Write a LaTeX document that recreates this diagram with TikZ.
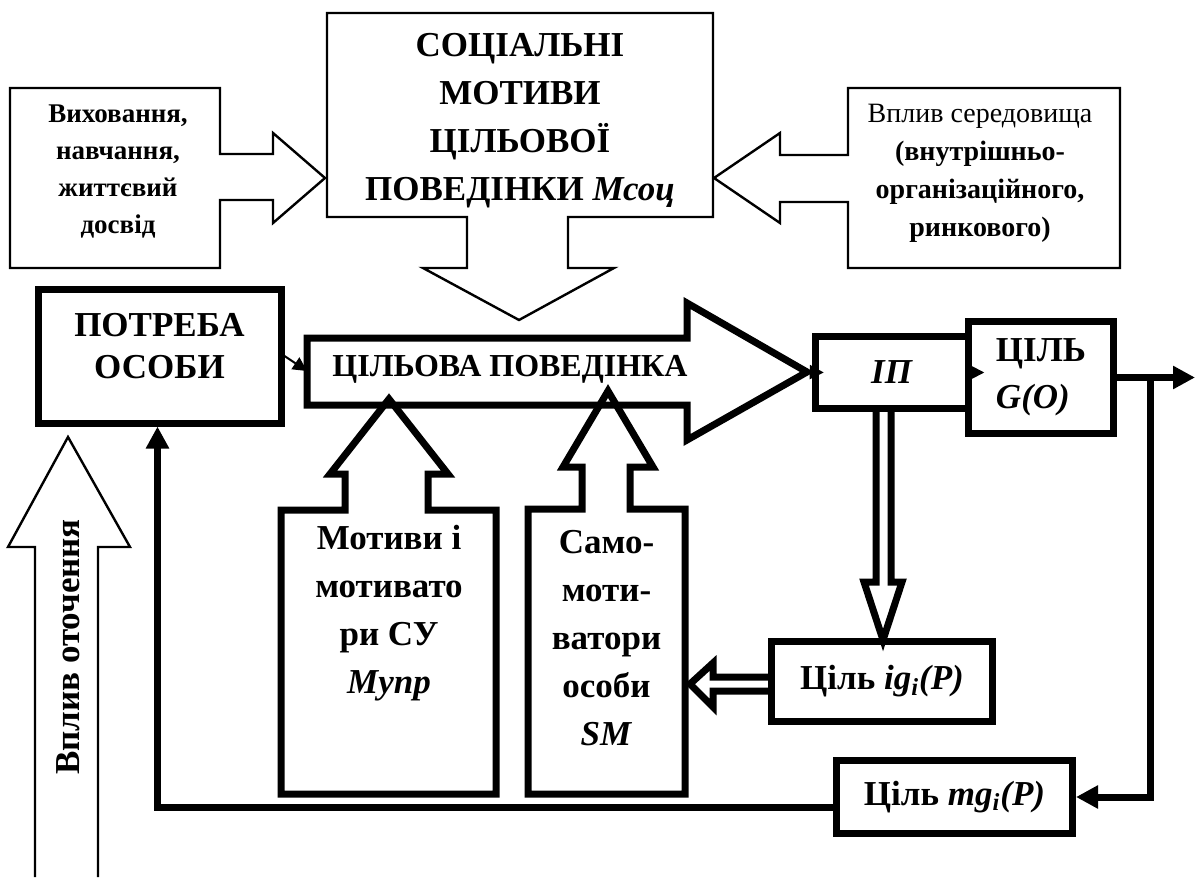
\documentclass[tikz,border=0pt]{standalone}
\usepackage{fontspec}
\setmainfont{Liberation Serif}
\usepackage{tikz}
\usetikzlibrary{arrows.meta}
\tikzset{>=stealth}
\tikzset{
  thin shape/.style={line width=1.2pt, line join=miter},
  thick shape/.style={line width=3.5pt, line join=miter},
  thick box/.style={draw, rectangle, line width=3.5pt, inner sep=0pt, align=center},
  big text/.style={font=\bfseries\fontsize{17.5}{24}\selectfont, align=center},
  small text/.style={font=\bfseries\fontsize{13.5}{18.5}\selectfont, align=center},
  feedback arrow/.style={line width=3.5pt, -{Triangle[length=11pt,width=11pt]}},
  small arrow/.style={line width=1pt, -{Triangle[length=7pt,width=7pt]}}
}

\begin{document}
\begin{tikzpicture}[x=0.5pt,y=-0.5pt]
    \useasboundingbox (0,0) rectangle (1197,877);
    % outer influences
    \draw[thin shape] (10,88) -- (220,88) -- (220,154) -- (273,154) -- (273,133) -- (325,178)
        -- (273,223) -- (273,200) -- (220,200) -- (220,268) -- (10,268) -- cycle;
    \draw[thin shape] (327,13) -- (713,13) -- (713,217) -- (568,217) -- (568,268) -- (614,268)
        -- (519,320) -- (423,268) -- (467,268) -- (467,217) -- (327,217) -- cycle;
    \draw[thin shape] (1120,88) -- (848,88) -- (848,155) -- (780,155) -- (780,133) -- (714,178)
        -- (780,223) -- (780,202) -- (848,202) -- (848,268) -- (1120,268) -- cycle;
    \draw[thin shape] (35,877) -- (35,547) -- (8,547) -- (68,437) -- (130,547) -- (98,547) -- (98,877);
    \node[small text] (upbring) at (118,172) {Виховання,\\навчання,\\життєвий\\досвід};
    \node[big text] (social) at (520,121) {СОЦІАЛЬНІ\\МОТИВИ\\ЦІЛЬОВОЇ\\ПОВЕДІНКИ \textit{Мсоц}};
    \node[font=\fontsize{14}{19}\selectfont, align=center] (milieu) at (980,173)
        {Вплив середовища\\\textbf{(внутрішньо-}\\\textbf{організаційного,}\\\textbf{ринкового)}};
    \node[big text, rotate=90] (env) at (68,647) {Вплив оточення};

    % goal-directed behaviour
    \draw[thick shape] (281,794) -- (281,510) -- (345,510) -- (345,474) -- (330,474) -- (389,399)
        -- (448,474) -- (428,474) -- (428,510) -- (496,510) -- (496,794) -- cycle;
    \draw[thick shape] (528,794) -- (528,509) -- (582,509) -- (582,467) -- (563,467) -- (608,391)
        -- (653,467) -- (630,467) -- (630,509) -- (685,509) -- (685,794) -- cycle;
    \draw[thick shape] (307,338) -- (687,338) -- (687,303) -- (807,372) -- (687,440) -- (687,405)
        -- (307,405) -- cycle;
    \coordinate (behW) at (307,371);
    \coordinate (behE) at (807,372);
    \node[font=\bfseries\fontsize{16}{18}\selectfont] (behav) at (510,369) {ЦІЛЬОВА ПОВЕДІНКА};
    \node[big text] (ctrl) at (389,613) {Мотиви і\\мотивато\\ри СУ\\\textit{Мупр}};
    \node[big text] (self) at (606.5,638) {Само-\\моти-\\ватори\\особи\\\textit{SM}};

    % boxes
    \node[thick box, big text, font=\bfseries\fontsize{17.5}{21}\selectfont, text depth=10pt,
        minimum width=121.5pt, minimum height=67pt] (need) at (159.5,356) {ПОТРЕБА\\ОСОБИ};
    \node[thick box, big text, minimum width=76.75pt, minimum height=36pt] (ip) at (892,372.5) {\textit{ІП}};
    \node[thick box, big text, font=\bfseries\fontsize{17.5}{23.5}\selectfont, align=left,
        minimum width=72.25pt, minimum height=56pt] (goal) at (1041,377.5) {ЦІЛЬ\\\textit{G(O)}};
    \node[thick box, big text, minimum width=110.5pt, minimum height=40pt] (ig) at (882,681.5)
        {Ціль \textit{ig\textsubscript{i}(P)}};
    \node[thick box, big text, minimum width=118pt, minimum height=36.5pt] (mg) at (954.5,797)
        {Ціль \textit{mg\textsubscript{i}(P)}};

    % hollow arrows
    \draw[thick shape] (876,411) -- (876,582) -- (864,582) -- (883,640) -- (902,582) -- (891,582) -- (891,411);
    \draw[thick shape] (770,677) -- (713,677) -- (713,663) -- (690,684) -- (713,707) -- (713,691) -- (770,691);

    % connectors
    \draw[small arrow] (need.east) -- (behW);
    \draw[small arrow] (behE) -- ([xshift=6pt]ip.west);
    \draw[small arrow] (ip.east) -- +(6pt,0);
    \coordinate (out) at (1195,377.5);
    \coordinate (split) at (1150,377.5);
    \draw[feedback arrow] (goal.east) -- (out);
    \draw[feedback arrow] (split) |- (mg.east);
    \draw[feedback arrow] ([yshift=-5pt]mg.west) -| ([xshift=-1pt]need.south);
\end{tikzpicture}
\end{document}
